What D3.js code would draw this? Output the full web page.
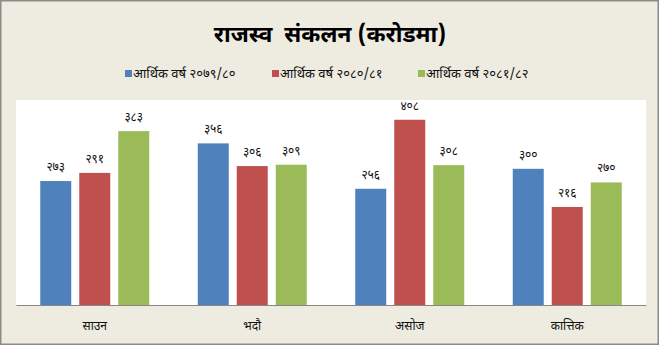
<!DOCTYPE html>
<html>
<head>
<meta charset="utf-8">
<script src="https://cdn.jsdelivr.net/npm/d3@7"></script>
<style>
  html, body { margin: 0; padding: 0; background: #fff; }
  svg { display: block; }
  text { font-family: "Noto Sans Devanagari", "Lohit Devanagari", Mangal, "Noto Sans", sans-serif; }
</style>
</head>
<body>
<script>
var categories = ["साउन", "भदौ", "असोज", "कात्तिक"];
var seriesNames = ["आर्थिक वर्ष २०७९/८०", "आर्थिक वर्ष २०८०/८१", "आर्थिक वर्ष २०८१/८२"];
var fy7980 = [273, 356, 256, 300];
var fy8081 = [291, 306, 408, 216];
var fy8182 = [383, 309, 308, 270];
var seriesValues = [fy7980, fy8081, fy8182];
var colors = ["#4F81BD", "#C0504D", "#9BBB59"];
var titleText = "राजस्व  संकलन (करोडमा)";

var width = 659, height = 345;
var nepaliDigits = "०१२३४५६७८९";
function toNepali(n) {
	return String(n).replace(/[0-9]/g, function(c) { return nepaliDigits[+c]; });
}

var svg = d3.select("body").append("svg").attr("width", width).attr("height", height);

// background + frame
svg.append("rect").attr("x", 0.75).attr("y", 0.75).attr("width", width - 1.5).attr("height", height - 1.5)
	.attr("fill", "#EEECE1").attr("stroke", "#8a8a8a").attr("stroke-width", 1.5);

// plot area
var plotLeft = 16, plotRight = 646, plotTop = 100, plotBottom = 305;
svg.append("rect").attr("x", plotLeft).attr("y", plotTop)
	.attr("width", plotRight - plotLeft).attr("height", plotBottom - plotTop).attr("fill", "#fff");

var x = d3.scaleBand().domain(categories).range([plotLeft, plotRight]);
var groupWidth = 109;
var xs = d3.scaleBand().domain(d3.range(seriesNames.length)).range([0, groupWidth]).paddingInner(8 / 39);
var y = d3.scaleLinear().domain([0, 450]).range([plotBottom, 100.7]);

var data = [];
categories.forEach(function(c, i) {
	seriesValues.forEach(function(vals, s) {
		data.push({ cat: c, s: s, v: vals[i] });
	});
});

function barX(d) { return x(d.cat) + (x.bandwidth() - groupWidth) / 2 + xs(d.s); }

svg.selectAll("rect.bar").data(data).enter().append("rect").attr("class", "bar")
	.attr("x", barX)
	.attr("y", function(d) { return y(d.v); })
	.attr("width", xs.bandwidth())
	.attr("height", function(d) { return plotBottom - y(d.v); })
	.attr("fill", function(d) { return colors[d.s]; });

//value labels
svg.selectAll("text.val").data(data).enter().append("text").attr("class", "val")
	.attr("x", function(d) { return barX(d) + xs.bandwidth() / 2; })
	.attr("y", function(d) { return y(d.v) - 10; })
	.attr("text-anchor", "middle").attr("font-size", 12).attr("fill", "#111")
	.text(function(d) { return toNepali(d.v); });

// x axis
var xAxis = svg.append("g").attr("transform", "translate(0," + plotBottom + ")")
	.call(d3.axisBottom(x).tickSize(0).tickPadding(16));
xAxis.select(".domain").attr("stroke", "#868686");
xAxis.selectAll("text").attr("font-size", 12).attr("fill", "#111")
	.style("font-family", "\"Noto Sans Devanagari\", \"Lohit Devanagari\", Mangal, sans-serif");

// title
svg.append("text").attr("x", 330).attr("y", 42).attr("text-anchor", "middle")
	.style("white-space", "pre")
	.attr("font-size", 23).attr("font-weight", "bold").attr("fill", "#000").text(titleText);

// legend
var legendX = [125, 272, 418];
var legend = svg.selectAll("g.leg").data(seriesNames).enter().append("g").attr("class", "leg")
	.attr("transform", function(d, i) { return "translate(" + legendX[i] + ",70)"; });
legend.append("rect").attr("width", 7).attr("height", 7).attr("fill", function(d, i) { return colors[i]; });
legend.append("text").attr("x", 8).attr("y", 8).attr("font-size", 13).attr("fill", "#111").text(function(d) { return d; });
</script>
</body>
</html>
